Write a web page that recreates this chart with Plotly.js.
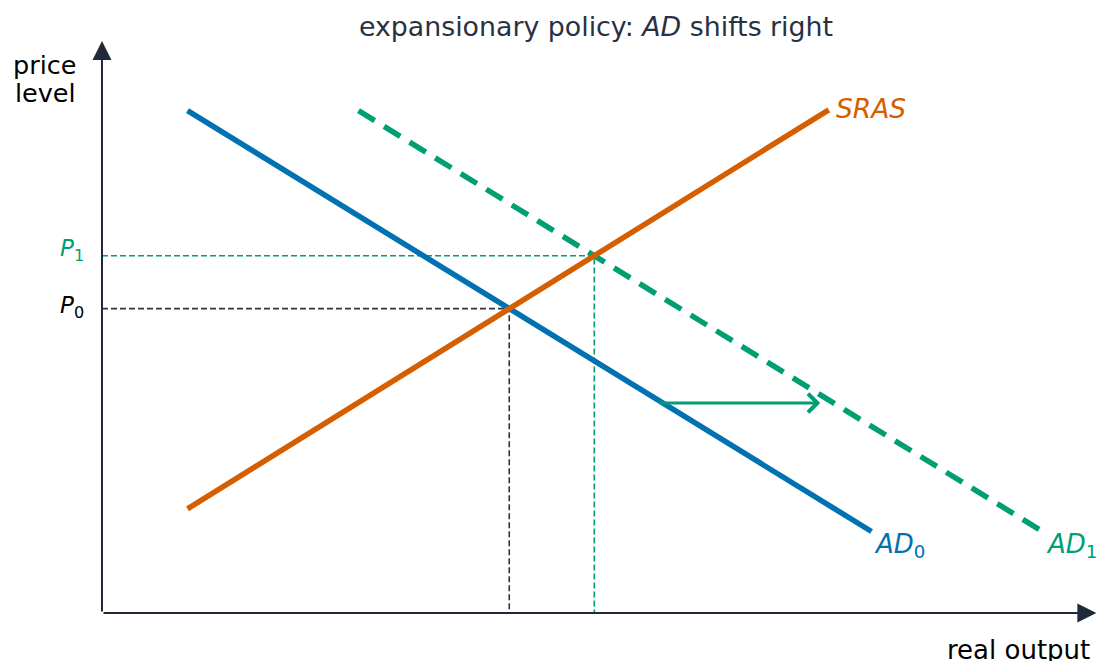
<!DOCTYPE html>
<html>
<head>
<meta charset="utf-8">
<script src="https://cdn.plot.ly/plotly-3.0.1.min.js"></script>
<style>html,body{margin:0;padding:0;background:#fff;}#chart{width:1097px;height:661px;}</style>
</head>
<body>
<div id="chart"></div>
<script>
// ---- data ----
const AD0_x = [1, 9];
const AD0_y = [5.98, 0.97];
const AD1_x = [3, 11];
const AD1_y = [5.98, 0.97];
const SRAS_x = [1, 8.5];
const SRAS_y = [1.24, 5.99];
const shift_x = [6.5, 8.4];
const shift_y = [2.5, 2.5];
const axisTip = {x: 11.63, y: 6.81};
const labels = {sras: 'SRAS', ad0: 'AD', ad1: 'AD', p0: 'P', p1: 'P', yTitle1: 'price', yTitle2: 'level', xTitle: 'real output',
  title: 'expansionary policy: <i>AD</i> shifts right'};

const BLUE = '#0072B2', ORANGE = '#D55E00', GREEN = '#009E73', AXIS = '#1f2937', DARK = '#2d3340';

function lineParams(xs, ys) {
  const m = (ys[1] - ys[0]) / (xs[1] - xs[0]);
  return {m: m, b: ys[0] - m * xs[0]};
}
function intersect(a, b) {
  const x = (b.b - a.b) / (a.m - b.m);
  return {x: x, y: a.m * x + a.b};
}
const lAD0 = lineParams(AD0_x, AD0_y), lAD1 = lineParams(AD1_x, AD1_y), lS = lineParams(SRAS_x, SRAS_y);
const E0 = intersect(lAD0, lS), E1 = intersect(lAD1, lS);

const traces = [
  {x: [0, E1.x, E1.x], y: [E1.y, E1.y, 0], mode: 'lines', line: {color: GREEN, width: 1.6, dash: '6px,3px'}},
  {x: [0, E0.x, E0.x], y: [E0.y, E0.y, 0], mode: 'lines', line: {color: DARK, width: 1.6, dash: '6px,3px'}},
  {x: AD1_x, y: AD1_y, mode: 'lines', line: {color: GREEN, width: 5.5, dash: '19px,11px'}},
  {x: AD0_x, y: AD0_y, mode: 'lines', line: {color: BLUE, width: 5.5}},
  {x: SRAS_x, y: SRAS_y, mode: 'lines', line: {color: ORANGE, width: 5.5}}
];

const F = 'DejaVu Sans, sans-serif';
const annotations = [
  // axes
  {x: axisTip.x, y: 0, ax: 0, ay: 0, axref: 'x', ayref: 'y', xref: 'x', yref: 'y', text: '', showarrow: true,
   arrowhead: 2, arrowsize: 1.9, arrowwidth: 2, arrowcolor: AXIS},
  {x: 0, y: axisTip.y, ax: 0, ay: 0, axref: 'x', ayref: 'y', xref: 'x', yref: 'y', text: '', showarrow: true,
   arrowhead: 2, arrowsize: 1.9, arrowwidth: 2, arrowcolor: AXIS},
  // shift arrow
  {x: shift_x[1], y: shift_y[1], ax: shift_x[0], ay: shift_y[0], axref: 'x', ayref: 'y', xref: 'x', yref: 'y', text: '',
   showarrow: true, arrowhead: 4, arrowsize: 1.2, arrowwidth: 3, arrowcolor: GREEN},
  // labels
  {x: 8.56, y: 6.01, xref: 'x', yref: 'y', text: '<i>' + labels.sras + '</i>', showarrow: false, xanchor: 'left', yanchor: 'middle',
   font: {family: F, size: 26.5, color: ORANGE}},
  {x: 9.0, y: 0.8, xref: 'x', yref: 'y', text: '<i>' + labels.ad0 + '</i><sub>0</sub>', showarrow: false, xanchor: 'left', yanchor: 'middle',
   font: {family: F, size: 26, color: BLUE}},
  {x: 11.02, y: 0.8, xref: 'x', yref: 'y', text: '<i>' + labels.ad1 + '</i><sub>1</sub>', showarrow: false, xanchor: 'left', yanchor: 'middle',
   font: {family: F, size: 26, color: GREEN}},
  {x: 0, y: E1.y, xshift: -16, yshift: 6, xref: 'x', yref: 'y', text: '<i>' + labels.p1 + '</i><sub>1</sub>', showarrow: false, xanchor: 'right', yanchor: 'middle',
   font: {family: F, size: 23, color: GREEN}},
  {x: 0, y: E0.y, xshift: -16, yshift: 2, xref: 'x', yref: 'y', text: '<i>' + labels.p0 + '</i><sub>0</sub>', showarrow: false, xanchor: 'right', yanchor: 'middle',
   font: {family: F, size: 23, color: '#000'}},
  {x: 0, y: 0, xshift: -24, yshift: 548, xref: 'x', yref: 'y', text: labels.yTitle1, showarrow: false, xanchor: 'right', yanchor: 'middle',
   font: {family: F, size: 25.5, color: '#000'}},
  {x: 0, y: 0, xshift: -24, yshift: 520, xref: 'x', yref: 'y', text: labels.yTitle2, showarrow: false, xanchor: 'right', yanchor: 'middle',
   font: {family: F, size: 25.5, color: '#000'}},
  {x: 11.58, y: 0, yshift: -37, xref: 'x', yref: 'y', text: labels.xTitle, showarrow: false, xanchor: 'right', yanchor: 'middle',
   font: {family: F, size: 26, color: '#000'}}
];

const layout = {
  width: 1097, height: 661,
  margin: {l: 102, r: 0, t: 40, b: 48},
  paper_bgcolor: '#fff', plot_bgcolor: '#fff',
  showlegend: false,
  title: {text: labels.title, font: {family: F, size: 26.8, color: '#283142'}, x: 0.5433, xref: 'container', xanchor: 'center', y: 0.959, yanchor: 'middle', yref: 'container'},
  xaxis: {range: [0, 11.637], visible: false, showgrid: false, zeroline: false, fixedrange: true},
  yaxis: {range: [0, 6.821], visible: false, showgrid: false, zeroline: false, fixedrange: true},
  annotations: annotations
};

Plotly.newPlot('chart', traces, layout, {displayModeBar: false, staticPlot: true});
</script>
</body>
</html>
